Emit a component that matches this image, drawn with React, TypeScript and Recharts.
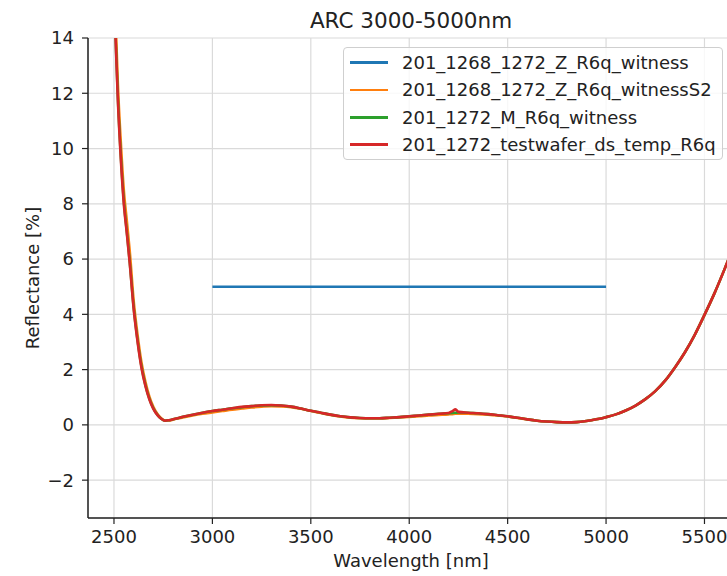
import {
  LineChart,
  Line,
  XAxis,
  YAxis,
  CartesianGrid,
} from "recharts";

const wavelengths = [
  2500, 2510, 2520, 2535, 2550, 2565, 2580, 2600, 2620, 2640, 2660, 2680, 2700,
  2720, 2740, 2760, 2780, 2800, 2850, 2900, 2950, 3000, 3050, 3100, 3150, 3200,
  3250, 3300, 3350, 3400, 3450, 3500, 3550, 3600, 3650, 3700, 3750, 3800, 3850,
  3900, 3950, 4000, 4050, 4100, 4150, 4200, 4220, 4235, 4250, 4300, 4350, 4400,
  4450, 4500, 4550, 4600, 4650, 4700, 4750, 4800, 4850, 4900, 4950, 5000, 5050,
  5100, 5150, 5200, 5250, 5300, 5350, 5400, 5450, 5500, 5550, 5600, 5650,
];

const witnessS2 = [
  16.2, 14.3, 12.3, 10.2, 8.5, 7.4, 6.3, 4.5, 3.25, 2.25, 1.55, 1.02, 0.65,
  0.4, 0.24, 0.16, 0.16, 0.19, 0.27, 0.34, 0.4, 0.45, 0.5, 0.55, 0.59, 0.63,
  0.66, 0.68, 0.67, 0.64, 0.58, 0.5, 0.43, 0.36, 0.3, 0.26, 0.24, 0.23, 0.23,
  0.25, 0.27, 0.29, 0.31, 0.34, 0.36, 0.38, 0.39, 0.4, 0.4, 0.4, 0.39, 0.37,
  0.34, 0.3, 0.25, 0.2, 0.15, 0.12, 0.1, 0.09, 0.1, 0.14, 0.2, 0.28, 0.38,
  0.52, 0.7, 0.93, 1.22, 1.6, 2.08, 2.62, 3.25, 3.98, 4.75, 5.6, 6.5,
];

const mWitness = [
  15.7, 13.7, 11.8, 9.7, 8.1, 7.0, 5.9, 4.25, 3.05, 2.1, 1.43, 0.94, 0.6,
  0.37, 0.22, 0.15, 0.17, 0.2, 0.29, 0.37, 0.44, 0.5, 0.55, 0.6, 0.64, 0.68,
  0.7, 0.71, 0.7, 0.66, 0.59, 0.51, 0.44, 0.37, 0.31, 0.27, 0.25, 0.24, 0.24,
  0.26, 0.28, 0.31, 0.34, 0.37, 0.4, 0.42, 0.43, 0.44, 0.45, 0.44, 0.42, 0.39,
  0.35, 0.31, 0.26, 0.2, 0.15, 0.12, 0.1, 0.09, 0.1, 0.14, 0.2, 0.28, 0.38,
  0.52, 0.7, 0.93, 1.22, 1.6, 2.08, 2.62, 3.25, 3.98, 4.75, 5.6, 6.5,
];

const testwafer = [
  15.6, 13.6, 11.7, 9.6, 8.0, 6.95, 5.85, 4.2, 3.0, 2.05, 1.4, 0.92, 0.58,
  0.36, 0.22, 0.15, 0.17, 0.2, 0.29, 0.37, 0.44, 0.5, 0.55, 0.6, 0.65, 0.68,
  0.71, 0.72, 0.7, 0.66, 0.59, 0.51, 0.44, 0.37, 0.31, 0.27, 0.25, 0.24, 0.24,
  0.26, 0.28, 0.31, 0.34, 0.37, 0.4, 0.43, 0.5, 0.56, 0.47, 0.44, 0.42, 0.39,
  0.35, 0.31, 0.26, 0.2, 0.15, 0.12, 0.1, 0.09, 0.1, 0.14, 0.2, 0.28, 0.38,
  0.52, 0.7, 0.93, 1.22, 1.6, 2.08, 2.62, 3.25, 3.98, 4.75, 5.6, 6.5,
];

// the witness target is a flat 5 % line between 3000 and 5000 nm
const witnessX = [3000, 5000];
const witnessY = [5, 5];

const xTicks = [2500, 3000, 3500, 4000, 4500, 5000, 5500];
const yTicks = [-2, 0, 2, 4, 6, 8, 10, 12, 14];

const seriesNames = [
  "201_1268_1272_Z_R6q_witness",
  "201_1268_1272_Z_R6q_witnessS2",
  "201_1272_M_R6q_witness",
  "201_1272_testwafer_ds_temp_R6q",
];
const colors = ["#1f77b4", "#ff7f0e", "#2ca02c", "#d62728"];

const rows = (xs: number[], ys: number[]) =>
  xs.map((x, i) => ({ x, y: ys[i] }));

const font = "'DejaVu Sans', sans-serif";
const textColor = "#222";

function YLabel(props: any) {
  const { y, height } = props.viewBox;
  const cy = y + height / 2;
  return (
    <text
      x={32}
      y={cy}
      transform={`rotate(-90, 32, ${cy})`}
      textAnchor="middle"
      dominantBaseline="central"
      fontSize={18}
      fontFamily={font}
      fill={textColor}
    >
      Reflectance [%]
    </text>
  );
}

function XLabel(props: any) {
  const { x, y, width } = props.viewBox;
  return (
    <text
      x={x + width / 2}
      y={y + 49}
      textAnchor="middle"
      fontSize={18}
      fontFamily={font}
      fill={textColor}
    >
      Wavelength [nm]
    </text>
  );
}

export default function App() {
  const tickStyle = { fontSize: 18, fontFamily: font, fill: textColor };
  return (
    <div
      style={{
        position: "absolute",
        left: 0,
        top: 0,
        width: 727,
        height: 576,
        overflow: "hidden",
        background: "#fff",
      }}
    >
      <div
        style={{
          position: "absolute",
          left: 0,
          width: 822,
          top: 8,
          textAlign: "center",
          fontFamily: font,
          fontSize: 21.5,
          color: textColor,
        }}
      >
        ARC 3000-5000nm
      </div>
      <LineChart
        width={740}
        height={576}
        margin={{ top: 38, right: 6, left: 0, bottom: 0 }}
      >
        <CartesianGrid stroke="#dadada" strokeWidth={1.2} />
        <XAxis
          type="number"
          dataKey="x"
          domain={[2368, 5650]}
          ticks={xTicks}
          allowDataOverflow
          height={58}
          tickSize={6}
          tickMargin={6}
          tick={tickStyle}
          stroke="#222"
          axisLine={{ stroke: "#222", strokeWidth: 1.5 }}
          tickLine={{ stroke: "#222", strokeWidth: 1.2 }}
          label={<XLabel />}
        />
        <XAxis
          xAxisId="top"
          orientation="top"
          type="number"
          dataKey="x"
          domain={[2368, 5650]}
          height={0}
          tick={false}
          tickLine={false}
          axisLine={{ stroke: "#222", strokeWidth: 1.5 }}
        />
        <YAxis
          type="number"
          domain={[-3.37, 14]}
          ticks={yTicks}
          allowDataOverflow
          width={88}
          tickSize={6}
          tickMargin={8}
          tick={tickStyle}
          tickFormatter={(v: number) => (v < 0 ? `\u2212${Math.abs(v)}` : `${v}`)}
          axisLine={{ stroke: "#222", strokeWidth: 1.5 }}
          tickLine={{ stroke: "#222", strokeWidth: 1.2 }}
          label={<YLabel />}
        />
        <Line
          data={rows(witnessX, witnessY)}
          dataKey="y"
          type="linear"
          stroke={colors[0]}
          strokeWidth={2.6}
          dot={false}
          isAnimationActive={false}
        />
        <Line
          data={rows(wavelengths, witnessS2)}
          dataKey="y"
          type="monotone"
          stroke={colors[1]}
          strokeWidth={2.6}
          dot={false}
          isAnimationActive={false}
        />
        <Line
          data={rows(wavelengths, mWitness)}
          dataKey="y"
          type="monotone"
          stroke={colors[2]}
          strokeWidth={2.6}
          dot={false}
          isAnimationActive={false}
        />
        <Line
          data={rows(wavelengths, testwafer)}
          dataKey="y"
          type="monotone"
          stroke={colors[3]}
          strokeWidth={2.6}
          dot={false}
          isAnimationActive={false}
        />
      </LineChart>
      <div
        style={{
          position: "absolute",
          left: 343,
          top: 47,
          width: 378,
          height: 110,
          border: "1px solid #cfcfcf",
          borderRadius: 4,
          background: "rgba(255,255,255,0.8)",
          fontFamily: font,
          fontSize: 18,
          color: textColor,
          paddingTop: 1,
        }}
      >
        {seriesNames.map((name, i) => (
          <div
            key={name}
            style={{ display: "flex", alignItems: "center", height: 27.3 }}
          >
            <div
              style={{
                marginLeft: 6,
                width: 38,
                height: 2.6,
                background: colors[i],
              }}
            />
            <span style={{ marginLeft: 14, whiteSpace: "nowrap" }}>{name}</span>
          </div>
        ))}
      </div>
    </div>
  );
}
